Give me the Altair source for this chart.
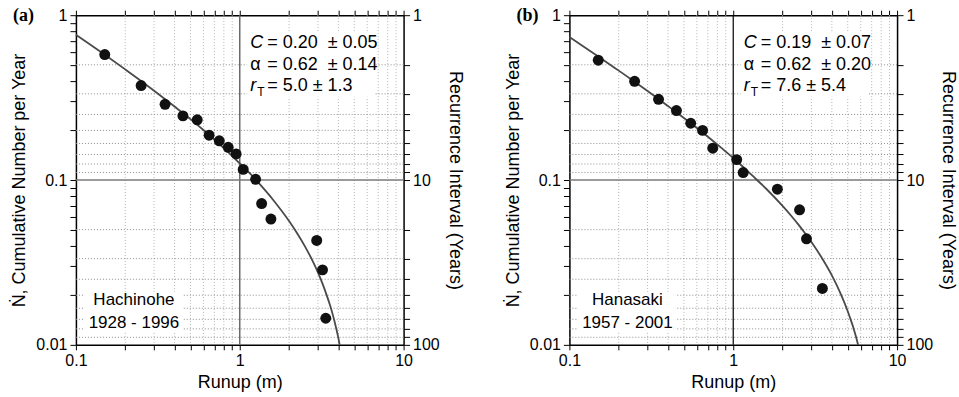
import altair as alt
import pandas as pd

# ---------------- data ----------------
# Panel (a) Hachinohe 1928 - 1996
a_runup = [0.15, 0.25, 0.35, 0.45, 0.55, 0.65, 0.75, 0.85, 0.95, 1.05, 1.25, 1.36, 1.55, 2.95, 3.2, 3.35]
a_rate = [0.577, 0.374, 0.288, 0.245, 0.232, 0.187, 0.173, 0.158, 0.144, 0.116, 0.101, 0.072, 0.058, 0.043, 0.0285, 0.0145]
a_fit_x = [0.1, 0.15, 0.2, 0.25, 0.3, 0.4, 0.5, 0.6, 0.7, 0.85, 1.0, 1.15, 1.3, 1.6, 2.0, 2.25, 2.5, 2.75, 3.0, 3.2,
           3.4, 3.55, 3.7, 3.8, 3.9, 4.0, 4.07]
a_fit_y = [0.760, 0.575, 0.469, 0.399, 0.348, 0.279, 0.234, 0.201, 0.176, 0.1475, 0.126, 0.110, 0.0963, 0.0757, 0.0564,
           0.0472, 0.0396, 0.0331, 0.0275, 0.0235, 0.0199, 0.0175, 0.0152, 0.0137, 0.0123, 0.0110, 0.0100]
a_stats = ["= 0.20\u00a0\u00a0\u00b1 0.05", "= 0.62\u00a0\u00a0\u00b1 0.14", "= 5.0 \u00b1 1.3"]

# Panel (b) Hanasaki 1957 - 2001
b_runup = [0.15, 0.25, 0.35, 0.45, 0.55, 0.65, 0.75, 1.05, 1.15, 1.86, 2.54, 2.8, 3.5]
b_rate = [0.533, 0.397, 0.309, 0.264, 0.221, 0.200, 0.156, 0.133, 0.111, 0.088, 0.066, 0.044, 0.022]
b_fit_x = [0.1, 0.15, 0.2, 0.25, 0.3, 0.4, 0.5, 0.6, 0.7, 0.85, 1.0, 1.15, 1.3, 1.6, 2.0, 2.25, 2.5, 2.75, 3.0, 3.5,
           4.0, 4.5, 5.0, 5.2, 5.4, 5.6, 5.78]
b_fit_y = [0.738, 0.562, 0.461, 0.395, 0.347, 0.281, 0.238, 0.207, 0.183, 0.156, 0.136, 0.120, 0.107, 0.0879, 0.0696,
           0.0609, 0.0536, 0.0474, 0.0421, 0.0333, 0.0264, 0.0207, 0.0160, 0.0143, 0.0128, 0.0113, 0.0100]
b_stats = ["= 0.19\u00a0\u00a0\u00b1 0.07", "= 0.62\u00a0\u00a0\u00b1 0.20", "= 7.6 \u00b1 5.4"]

# axis ticks / grid
minor_x = [0.2, 0.3, 0.4, 0.5, 0.6, 0.7, 0.8, 0.9, 2, 3, 4, 5, 6, 7, 8, 9]
x_ticks = [0.1, 0.2, 0.3, 0.4, 0.5, 0.6, 0.7, 0.8, 0.9, 1, 2, 3, 4, 5, 6, 7, 8, 9, 10]
y_ticks = [0.01, 0.02, 0.03, 0.04, 0.05, 0.06, 0.07, 0.08, 0.09, 0.1, 0.2, 0.3, 0.4, 0.5, 0.6, 0.7, 0.8, 0.9, 1]
recur_grid = [2, 3, 4, 5, 6, 7, 8, 9, 20, 30, 40, 50, 60, 70, 80, 90]
recur_ticks = [1, 2, 3, 4, 5, 6, 7, 8, 9, 10, 20, 30, 40, 50, 60, 70, 80, 90, 100]

FONT = "Liberation Sans"
xs = alt.Scale(type="log", domain=[0.1, 10])
ys = alt.Scale(type="log", domain=[0.01, 1])
ONE = alt.Data(values=[{}])


def xd(v):
    return alt.XDatum(v, scale=xs, axis=None)


def yd(v):
    return alt.YDatum(v, scale=ys, axis=None)


def txt(s, x, y, size=18, align="left", dx=0, dy=0, style="normal", font=FONT):
    return alt.Chart(ONE).mark_text(
        text=s, font=font, fontSize=size, align=align, baseline="middle",
        dx=dx, dy=dy, fontStyle=style, color="black"
    ).encode(x=xd(x), y=yd(y))


def box(x1, x2, y1, y2):
    return alt.Chart(ONE).mark_rect(color="white").encode(
        x=xd(x1), x2=alt.X2Datum(x2), y=yd(y1), y2=alt.Y2Datum(y2))


def panel(tag, tag_x, runup, rate, fit_x, fit_y, stats, site, years, one_color, one_width):
    vgrid = alt.Chart(pd.DataFrame({"x": minor_x})).mark_rule(
        color="#b4b4b4", strokeDash=[1, 2], strokeWidth=1
    ).encode(
        x=alt.X("x:Q", scale=xs, axis=alt.Axis(
            orient="top", values=x_ticks, labels=False, title=None, grid=False,
            tickSize=5, domainWidth=1.5))
    )
    hgrid = alt.Chart(pd.DataFrame({"y": [1 / r for r in recur_grid]})).mark_rule(
        color="#8c8c8c", strokeDash=[1, 2], strokeWidth=1
    ).encode(
        y=alt.Y("y:Q", scale=ys, axis=alt.Axis(
            orient="right", values=[1 / r for r in recur_ticks],
            labelExpr="datum.value == 1 ? '1' : (datum.value == 0.1 ? '10' : (datum.value == 0.01 ? '100' : ''))",
            title="Recurrence Interval (Years)", grid=False, tickSize=6, labelPadding=3, titlePadding=6,
            labelOverlap=False))
    )
    vone = alt.Chart(ONE).mark_rule(color=one_color, strokeWidth=one_width).encode(x=xd(1))
    hone = alt.Chart(ONE).mark_rule(color="#7a7a7a", strokeWidth=1.6).encode(y=yd(0.1))

    fit = alt.Chart(pd.DataFrame({"x": fit_x, "y": fit_y})).mark_line(
        color="#4a4a4a", strokeWidth=1.8, interpolate="monotone"
    ).encode(x=alt.X("x:Q", scale=xs, axis=None), y=alt.Y("y:Q", scale=ys, axis=None))

    pts = alt.Chart(pd.DataFrame({"x": runup, "y": rate})).mark_circle(
        size=120, color="#111111", opacity=1
    ).encode(
        x=alt.X("x:Q", scale=xs, axis=alt.Axis(
            orient="bottom", values=x_ticks,
            labelExpr="datum.value == 0.1 ? '0.1' : (datum.value == 1 ? '1' : (datum.value == 10 ? '10' : ''))",
            title="Runup (m)", grid=False, tickSize=5, labelPadding=3, titlePadding=5,
            labelFlush=False, labelOverlap=False)),
        y=alt.Y("y:Q", scale=ys, axis=alt.Axis(
            orient="left", values=y_ticks,
            labelExpr="datum.value == 1 ? '1' : (datum.value == 0.1 ? '0.1' : (datum.value == 0.01 ? '0.01' : ''))",
            title="\u1e44, Cumulative Number per Year", grid=False, tickSize=6, labelPadding=3,
            titlePadding=7, labelOverlap=False))
    )

    xl = 1.16
    ann = [
        box(1.11, 6.7, 0.32, 0.78),
        txt("C", xl, 0.678, style="italic"),
        txt("\u03b1", xl, 0.496),
        txt("r", xl, 0.374, style="italic"),
        txt("T", xl, 0.374, size=12, dx=7, dy=6),
        txt(stats[0], xl, 0.678, dx=17),
        txt(stats[1], xl, 0.496, dx=17),
        txt(stats[2], xl, 0.374, dx=17),
        box(0.113, 0.445, 0.012, 0.021),
        txt(site, 0.226, 0.0186, size=17, align="center"),
        txt(years, 0.226, 0.0135, size=17, align="center"),
    ]
    label = alt.Chart(ONE).mark_text(
        text=tag, font="Liberation Serif", fontWeight="bold", fontSize=18, align="left", baseline="middle"
    ).encode(x=alt.value(tag_x), y=alt.value(1))

    return alt.layer(vgrid, hgrid, vone, hone, *ann, fit, pts, label).resolve_axis(
        x="independent", y="independent"
    ).properties(width=328, height=330)


pa = panel("(a)", -63, a_runup, a_rate, a_fit_x, a_fit_y, a_stats, "Hachinohe", "1928 - 1996", "#6a6a6a", 1.5)
pb = panel("(b)", -53, b_runup, b_rate, b_fit_x, b_fit_y, b_stats, "Hanasaki", "1957 - 2001", "#000000", 1.2)

chart = alt.hconcat(pa, pb, spacing=40).configure_axis(
    labelFont=FONT, titleFont=FONT, labelFontSize=16, titleFontSize=18, titleFontWeight="normal",
    domainColor="black", domainWidth=1.5, tickColor="black", tickWidth=1,
    labelColor="black", titleColor="black"
).configure_view(stroke=None).properties(
    padding={"left": 10, "top": 7, "right": 2, "bottom": 2}, background="white"
)

chart.save("out.html", embed_options={"renderer": "svg", "actions": False})
